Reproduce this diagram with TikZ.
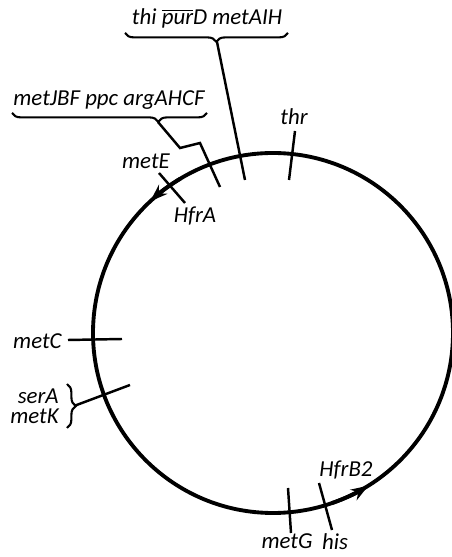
\documentclass[tikz,border=0pt]{standalone}
\usepackage{fontspec}
\setmainfont{Carlito}
\usetikzlibrary{arrows.meta, decorations.pathreplacing, positioning}

\begin{document}
\begin{tikzpicture}[x=0.02cm, y=0.02cm,
    gene/.style={font=\itshape\fontsize{13}{11.5}\selectfont, inner sep=0pt},
    locus/.style={line width=1.4pt},
    grp/.style={decorate, decoration={brace, amplitude=5pt, aspect=#1}, line width=1.2pt}]

\useasboundingbox (0,0) rectangle (452,557);
\coordinate (centre) at (273,224);
\draw[line width=2.2pt] (centre) circle (180);
\draw[line width=2.2pt, -{Stealth[length=10pt, width=7pt]}] ([shift={(121:180)}]centre) arc (121:133:180);
\draw[line width=2.2pt, -{Stealth[length=10pt, width=7pt]}] ([shift={(-71:180)}]centre) arc (-71:-58:180);

% top
\draw[locus] (295,426) -- (289,377);
\node[gene] (thr) at (294,440) {thr};

\node[gene] (thi) at (207,539) {thi $\overline{\textit{pur}}$D metAIH};
\draw[grp=0.44] (288,524) -- (125,524);
\coordinate (thitip) at (217,515);
\draw[locus] (thitip) -- (245,377);

\node[gene] (metJ) at (109,457) {metJBF ppc argAHCF};
\draw[grp=0.25] (207,444) -- (12,444);
\coordinate (metJtip) at (158,435);
\draw[locus] (metJtip) -- (180,409) -- (200,414) -- (220,370);

\draw[locus] (159,384) -- (185,354);
\node[gene] (metE) at (146,396) {metE};
\node[gene] (HfrA) at (195,341) {HfrA};

% left
\draw[locus] (68,217) -- (122,218);
\node[gene, anchor=east] (metC) at (62,216) {metC};

\node[gene, anchor=east, align=right] (serK) at (59,151) {serA\\metK};
\draw[grp=0.5] (67,173) -- (67,129);
\coordinate (sertip) at (74,151);
\draw[locus] (sertip) -- (130,172);

% bottom
\draw[locus] (288,69) -- (291,24);
\node[gene] (metG) at (287,16) {metG};
\draw[locus] (319,74) -- (332,27);
\node[gene] (his) at (335,15) {his};
\node[gene] (HfrB) at (346,87) {HfrB2};

\end{tikzpicture}
\end{document}
